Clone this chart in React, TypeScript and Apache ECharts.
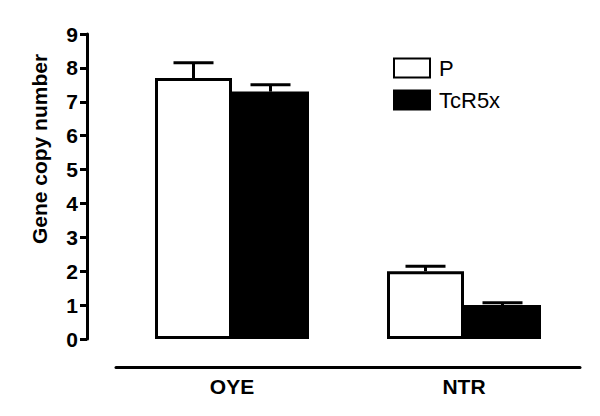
import React, { useEffect, useRef } from "react";
import * as echarts from "echarts";

const categories = ["OYE", "NTR"];
const seriesNames = ["P", "TcR5x"];
const pValues = [7.7, 2.0];
const pErrors = [0.45, 0.15];
const tValues = [7.3, 1.0];
const tErrors = [0.2, 0.07];
const yTicks = [0, 1, 2, 3, 4, 5, 6, 7, 8, 9];

const FONT = "'Liberation Sans', Arial, sans-serif";
const BAR_W = 77;

function errorSeries(name: string, values: number[], errors: number[], dx: number) {
  return {
    name: name + "-err",
    type: "custom",
    z: 5,
    silent: true,
    data: categories.map((c, i) => [i, values[i], errors[i]]),
    renderItem: (params: any, api: any) => {
      const x = api.value(0);
      const v = api.value(1);
      const e = api.value(2);
      const base = api.coord([x, v]);
      const hi = api.coord([x, v + e]);
      const cx = base[0] + dx;
      return {
        type: "group",
        children: [
          {
            type: "line",
            shape: { x1: cx, y1: base[1], x2: cx, y2: hi[1] },
            style: { stroke: "#000", lineWidth: 3 },
          },
          {
            type: "line",
            shape: { x1: cx - 20, y1: hi[1], x2: cx + 20, y2: hi[1] },
            style: { stroke: "#000", lineWidth: 3 },
          },
        ],
      };
    },
  };
}

export default function App() {
  const ref = useRef<HTMLDivElement>(null);
  useEffect(() => {
    if (!ref.current) return;
    const chart = echarts.init(ref.current, null, { renderer: "svg" });
    chart.setOption({
      animation: false,
      backgroundColor: "#fff",
      grid: { left: 116, right: 20, top: 34, bottom: 77 },
      legend: {
        data: seriesNames,
        orient: "vertical",
        left: 388,
        top: 52,
        itemWidth: 36,
        itemHeight: 19,
        itemGap: 10,
        icon: "rect",
        selectedMode: false,
        textStyle: { fontFamily: FONT, fontSize: 22, color: "#000", padding: [0, 0, 0, 4] },
      },
      xAxis: {
        type: "category",
        data: categories,
        offset: 28,
        axisLine: { show: true, onZero: false, lineStyle: { color: "#000", width: 3 } },
        axisTick: { show: false },
        axisLabel: {
          margin: 9,
          fontFamily: FONT,
          fontWeight: "bold",
          fontSize: 21,
          color: "#000",
        },
      },
      yAxis: {
        type: "value",
        min: yTicks[0],
        max: yTicks[yTicks.length - 1],
        interval: 1,
        offset: 29,
        splitLine: { show: false },
        axisLine: { show: true, onZero: false, lineStyle: { color: "#000", width: 3 } },
        axisTick: { show: true, length: 7, lineStyle: { color: "#000", width: 3 } },
        axisLabel: {
          margin: 9,
          fontFamily: FONT,
          fontWeight: "bold",
          fontSize: 21,
          color: "#000",
        },
      },
      graphic: [
        {
          type: "text",
          x: 39,
          y: 149,
          rotation: Math.PI / 2,
          style: {
            text: "Gene copy number",
            fontFamily: FONT,
            fontWeight: "bold",
            fontSize: 21,
            fill: "#000",
            textAlign: "center",
            textVerticalAlign: "middle",
          },
        },
      ],
      series: [
        {
          name: seriesNames[0],
          type: "bar",
          data: pValues,
          barWidth: BAR_W,
          barGap: "0%",
          z: 3,
          itemStyle: { color: "#fff", borderColor: "#000", borderWidth: 3 },
        },
        {
          name: seriesNames[1],
          type: "bar",
          data: tValues,
          barWidth: BAR_W,
          barGap: "0%",
          z: 2,
          itemStyle: { color: "#000", borderColor: "#000", borderWidth: 3 },
        },
        errorSeries(seriesNames[0], pValues, pErrors, -BAR_W / 2),
        errorSeries(seriesNames[1], tValues, tErrors, BAR_W / 2),
      ],
    });
    return () => chart.dispose();
  }, []);
  return (
    <div
      ref={ref}
      style={{ position: "absolute", left: 0, top: 0, width: 600, height: 416 }}
    />
  );
}
